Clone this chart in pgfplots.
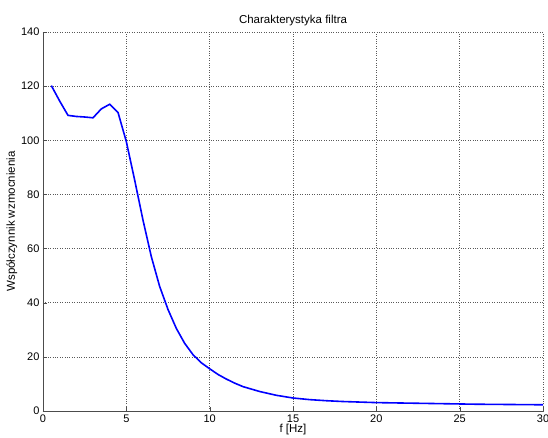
\documentclass[border=0pt]{standalone}
\usepackage{fontspec}
\setmainfont{Liberation Sans}
\usepackage{pgfplots}
\pgfplotsset{compat=1.18}
\begin{document}
\begin{tikzpicture}
\useasboundingbox (-43pt,-27pt) rectangle (505pt,411pt);
\begin{axis}[
  at={(0pt,0pt)}, anchor=origin,
  scale only axis, width=500pt, height=379pt,
  xmin=0, xmax=30, ymin=0, ymax=140,
  xtick={0,5,...,30}, ytick={0,20,...,140},
  axis x line=bottom, axis y line=left,
  axis line style={-, gray!60!black},
  tick style={gray!60!black},
  tick align=inside,
  grid=major,
  major grid style={dotted, gray!70!black, line width=0.45pt},
  font=\fontsize{11.5}{13}\selectfont,
  ticklabel style={font=\fontsize{11}{13}\selectfont},
  /pgf/number format/assume math mode=true,
  title={Charakterystyka filtra},
  title style={yshift=-3pt},
  xlabel={f [Hz]},
  ylabel={Współczynnik wzmocnienia},
  xlabel style={yshift=5pt},
  ylabel style={yshift=-3pt},
]
\addplot[blue, line width=1.6pt] coordinates {
(0.5,120.2) (1,114.5) (1.5,109.2) (2,108.8) (2.5,108.6) (3,108.3) (3.5,111.6) (4,113.3) (4.5,110.3)
(5,99.5) (5.5,85.3) (6,70.5) (6.5,57) (7,46) (7.5,37.5) (8,30.5) (8.5,25) (9,20.8) (9.5,17.8)
(10,15.6) (10.5,13.5) (11,11.8) (11.5,10.3) (12,9.0) (13,7.2) (14,5.8) (15,4.8) (16,4.2) (17,3.8)
(18,3.5) (19,3.3) (20,3.1) (21,3.0) (22,2.9) (23,2.8) (24,2.7) (25,2.6) (26,2.5) (27,2.45) (28,2.4) (29,2.35) (30,2.3)
};
\end{axis}
\end{tikzpicture}
\end{document}
